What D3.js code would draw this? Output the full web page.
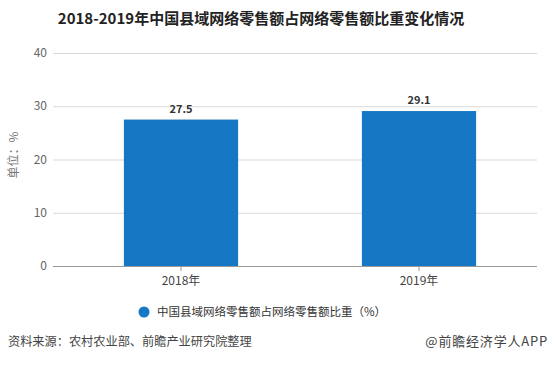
<!DOCTYPE html>
<html>
<head>
<meta charset="utf-8">
<script src="https://cdn.jsdelivr.net/npm/d3@7"></script>
<style>
  body { margin: 0; background: #fff; }
  svg { display: block; font-family: "Microsoft YaHei", "Noto Sans CJK SC", sans-serif; }
</style>
</head>
<body>
<div id="chart"></div>
<script>
var years = ["2018年", "2019年"];
var shares = [27.5, 29.1];
var yTicks = [0, 10, 20, 30, 40];

var width = 552, height = 366;
var barColor = "#1677c4";

var svg = d3.select("#chart").append("svg")
    .attr("width", width)
    .attr("height", height);

svg.append("rect").attr("width", width).attr("height", height).attr("fill", "#fff");

// title
svg.append("text")
    .attr("x", 261).attr("y", 24)
    .attr("text-anchor", "middle")
    .attr("font-size", 15).attr("font-weight", "bold")
    .attr("fill", "#222")
    .text("2018-2019年中国县域网络零售额占网络零售额比重变化情况");

var x = d3.scaleBand().domain(years).range([62, 538])
    .paddingInner(0.52).paddingOuter(0.26);
var y = d3.scaleLinear().domain([0, 40]).range([266, 53]);

// grid
svg.append("g").selectAll("line").data(yTicks.filter(function(d) { return d > 0; }))
  .enter().append("line")
    .attr("x1", 53).attr("x2", 537)
    .attr("y1", function(d) { return y(d) + 0.5; })
    .attr("y2", function(d) { return y(d) + 0.5; })
    .attr("stroke", "#d9d9d9");

// y tick labels
svg.append("g").selectAll("text").data(yTicks)
  .enter().append("text")
    .attr("x", 47).attr("y", function(d) { return y(d); })
    .attr("dy", "0.35em")
    .attr("text-anchor", "end")
    .attr("font-size", 12).attr("fill", "#666")
    .text(function(d) { return d; });

// axis label
svg.append("text")
    .attr("transform", "translate(18,155) rotate(-90)")
    .attr("text-anchor", "middle")
    .attr("font-size", 12).attr("fill", "#777")
    .text("单位：%");

// bars
svg.append("g").selectAll("rect").data(shares)
  .enter().append("rect")
    .attr("x", function(d, i) { return x(years[i]); })
    .attr("width", x.bandwidth())
    .attr("y", function(d) { return y(d); })
    .attr("height", function(d) { return y(0) - y(d); })
    .attr("fill", barColor);

// value labels
svg.append("g").selectAll("text").data(shares)
  .enter().append("text")
    .attr("x", function(d, i) { return x(years[i]) + x.bandwidth() / 2; })
    .attr("y", function(d) { return y(d) - 7; })
    .attr("text-anchor", "middle")
    .attr("font-size", 11).attr("font-weight", "bold")
    .attr("fill", "#333")
    .text(function(d) { return d.toFixed(1); });

// x axis line + ticks
svg.append("line")
    .attr("x1", 53).attr("x2", 537)
    .attr("y1", 266.5).attr("y2", 266.5)
    .attr("stroke", "#999");

var xt = svg.append("g").selectAll("g").data(years).enter().append("g")
    .attr("transform", function(d) { return "translate(" + (x(d) + x.bandwidth() / 2) + ",0)"; });
xt.append("line").attr("y1", 266).attr("y2", 271).attr("stroke", "#999");
xt.append("text")
    .attr("y", 285)
    .attr("text-anchor", "middle")
    .attr("font-size", 12).attr("fill", "#444")
    .text(function(d) { return d; });

// legend
svg.append("circle").attr("cx", 144).attr("cy", 312).attr("r", 5.5).attr("fill", barColor);
svg.append("text")
    .attr("x", 157).attr("y", 316)
    .attr("font-size", 11.5).attr("fill", "#333")
    .text("中国县域网络零售额占网络零售额比重（%）");

// footer
svg.append("text")
    .attr("x", 8).attr("y", 346)
    .attr("font-size", 12.2).attr("fill", "#444")
    .text("资料来源：农村农业部、前瞻产业研究院整理");
svg.append("text")
    .attr("x", 548).attr("y", 346)
    .attr("text-anchor", "end")
    .attr("font-size", 13).attr("letter-spacing", 0.8).attr("fill", "#444")
    .text("@前瞻经济学人APP");
</script>
</body>
</html>
